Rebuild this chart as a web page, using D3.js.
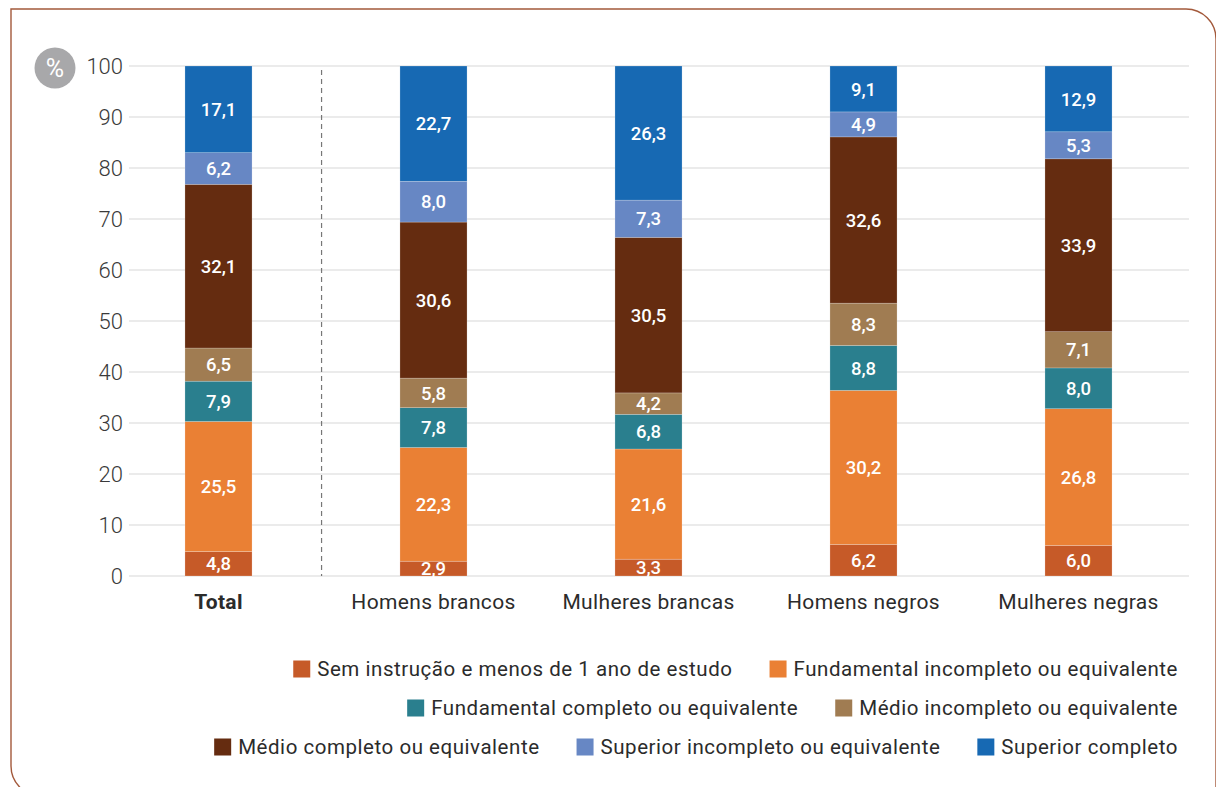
<!DOCTYPE html>
<html>
<head>
<meta charset="utf-8">
<script src="https://cdn.jsdelivr.net/npm/d3@7"></script>
<style>
  html, body { margin: 0; padding: 0; background: #fff; }
  svg { display: block; font-family: Roboto, "Noto Sans", sans-serif; }
</style>
</head>
<body>
<svg id="chart" width="1216" height="787"></svg>
<script>
// Population by education level, by group (%)
const groups = ["Total", "Homens brancos", "Mulheres brancas", "Homens negros", "Mulheres negras"];
const levels = [
  "Sem instrução e menos de 1 ano de estudo",
  "Fundamental incompleto ou equivalente",
  "Fundamental completo ou equivalente",
  "Médio incompleto ou equivalente",
  "Médio completo ou equivalente",
  "Superior incompleto ou equivalente",
  "Superior completo"
];
const levelColors = ["#c65a28", "#ea8034", "#2a7f8e", "#a07c52", "#652c10", "#6787c4", "#1769b3"];

// values per group, in the order of `levels` (bottom to top)
const semInstrucao       = [4.8, 2.9, 3.3, 6.2, 6.0];
const fundIncompleto     = [25.5, 22.3, 21.6, 30.2, 26.8];
const fundCompleto       = [7.9, 7.8, 6.8, 8.8, 8.0];
const medioIncompleto    = [6.5, 5.8, 4.2, 8.3, 7.1];
const medioCompleto      = [32.1, 30.6, 30.5, 32.6, 33.9];
const superiorIncompleto = [6.2, 8.0, 7.3, 4.9, 5.3];
const superiorCompleto   = [17.1, 22.7, 26.3, 9.1, 12.9];

const yTicks = [0, 10, 20, 30, 40, 50, 60, 70, 80, 90, 100];

const series = [semInstrucao, fundIncompleto, fundCompleto, medioIncompleto,
                medioCompleto, superiorIncompleto, superiorCompleto];
const rows = groups.map((g, i) => {
  const r = { group: g };
  levels.forEach((l, k) => { r[l] = series[k][i]; });
  return r;
});

const svg = d3.select("#chart");

// frame with rounded top-right and bottom-left corners
const fx = 11, fy = 9, fr = 30, fxr = 1216, fyb = 796;
svg.append("path")
  .attr("d", `M${fx},${fy} H${fxr - fr} A${fr},${fr} 0 0 1 ${fxr},${fy + fr} V${fyb} H${fx + fr} A${fr},${fr} 0 0 1 ${fx},${fyb - fr} Z`)
  .attr("fill", "none")
  .attr("stroke", "#a3593b")
  .attr("stroke-width", 1.4);

const gridX0 = 129, gridX1 = 1189;
const y = d3.scaleLinear().domain([0, 100]).range([576, 66]).clamp(true);
const x = d3.scaleBand().domain(groups).range([111, 1186]).paddingInner(0.688).paddingOuter(0.344);

// gridlines
svg.append("g")
  .selectAll("line")
  .data(yTicks)
  .join("line")
  .attr("x1", gridX0).attr("x2", gridX1)
  .attr("y1", d => y(d)).attr("y2", d => y(d))
  .attr("stroke", "#e4e4e4")
  .attr("stroke-width", 1.5);

// y axis labels
const yAxis = d3.axisLeft(y).tickValues(yTicks).tickSize(0).tickPadding(0);
const yg = svg.append("g").attr("transform", `translate(123,0)`).call(yAxis);
yg.select(".domain").remove();
yg.selectAll("text")
  .attr("font-family", "Roboto, sans-serif")
  .attr("font-size", 22)
  .attr("font-weight", 300)
  .attr("fill", "#3a3a3a")
  .attr("dy", "0.35em");

// percent badge
svg.append("circle").attr("cx", 55).attr("cy", 68).attr("r", 20.5).attr("fill", "#a8a8aa");
svg.append("text").attr("x", 55).attr("y", 68).attr("dy", "0.36em")
  .attr("text-anchor", "middle").attr("fill", "#fff")
  .attr("font-size", 25).attr("font-weight", 400).text("%");

// separator between Total and groups
const gapStart = x("Total") + x.bandwidth(), gapEnd = x("Homens brancos");
const sepX = gapStart + (gapEnd - gapStart) * 0.47;
svg.append("line")
  .attr("x1", sepX).attr("x2", sepX)
  .attr("y1", y(99.2)).attr("y2", y(0))
  .attr("stroke", "#777")
  .attr("stroke-width", 1.2)
  .attr("stroke-dasharray", "5,4");

// stacked bars
const stack = d3.stack().keys(levels);
const stacked = stack(rows);

const layers = svg.append("g").selectAll("g")
  .data(stacked)
  .join("g")
  .attr("fill", (d, i) => levelColors[i]);

layers.selectAll("rect")
  .data(d => d)
  .join("rect")
  .attr("x", d => x(d.data.group))
  .attr("width", x.bandwidth())
  .attr("y", d => y(d[1]))
  .attr("height", d => y(d[0]) - y(d[1]))
  .attr("stroke", "rgba(255,255,255,0.35)")
  .attr("stroke-width", 0.6);

// value labels
layers.selectAll("text")
  .data(d => d.map(p => ({ p, key: d.key })))
  .join("text")
  .attr("x", d => x(d.p.data.group) + x.bandwidth() / 2)
  .attr("y", d => (y(d.p[0]) + y(d.p[1])) / 2)
  .attr("dy", "0.36em")
  .attr("text-anchor", "middle")
  .attr("fill", "#fff")
  .attr("font-size", 18.5)
  .attr("font-weight", 500)
  .text(d => d3.format(".1f")(d.p.data[d.key]).replace(".", ","));

// x axis labels
const xAxis = d3.axisBottom(x).tickSize(0).tickPadding(0);
const xg = svg.append("g").attr("transform", `translate(0,602)`).call(xAxis);
xg.select(".domain").remove();
xg.selectAll("text")
  .attr("font-family", "Roboto, sans-serif")
  .attr("font-size", 21)
  .attr("letter-spacing", 0.35)
  .attr("fill", "#2b2b2b")
  .attr("dy", "0.35em")
  .attr("font-weight", d => d === "Total" ? 700 : 400);

// legend, right-aligned rows
const legendRows = [[0, 1], [2, 3], [4, 5, 6]];
const legendRowY = [669, 708, 747];
const legendRight = 1178, sw = 17, swGap = 7, itemGap = 37;
const lg = svg.append("g");
legendRows.forEach((row, ri) => {
  let cursor = legendRight;
  for (let j = row.length - 1; j >= 0; j--) {
    const k = row[j];
    const t = lg.append("text")
      .attr("y", legendRowY[ri])
      .attr("dy", "0.35em")
      .attr("font-size", 20.5)
      .attr("letter-spacing", 0.54)
      .attr("fill", "#2b2b2b")
      .attr("text-anchor", "end")
      .attr("x", cursor)
      .text(levels[k]);
    const tw = t.node().getComputedTextLength();
    const sx = cursor - tw - swGap - sw;
    lg.append("rect")
      .attr("x", sx).attr("y", legendRowY[ri] - sw / 2)
      .attr("width", sw).attr("height", sw)
      .attr("fill", levelColors[k]);
    cursor = sx - itemGap;
  }
});
</script>
</body>
</html>
